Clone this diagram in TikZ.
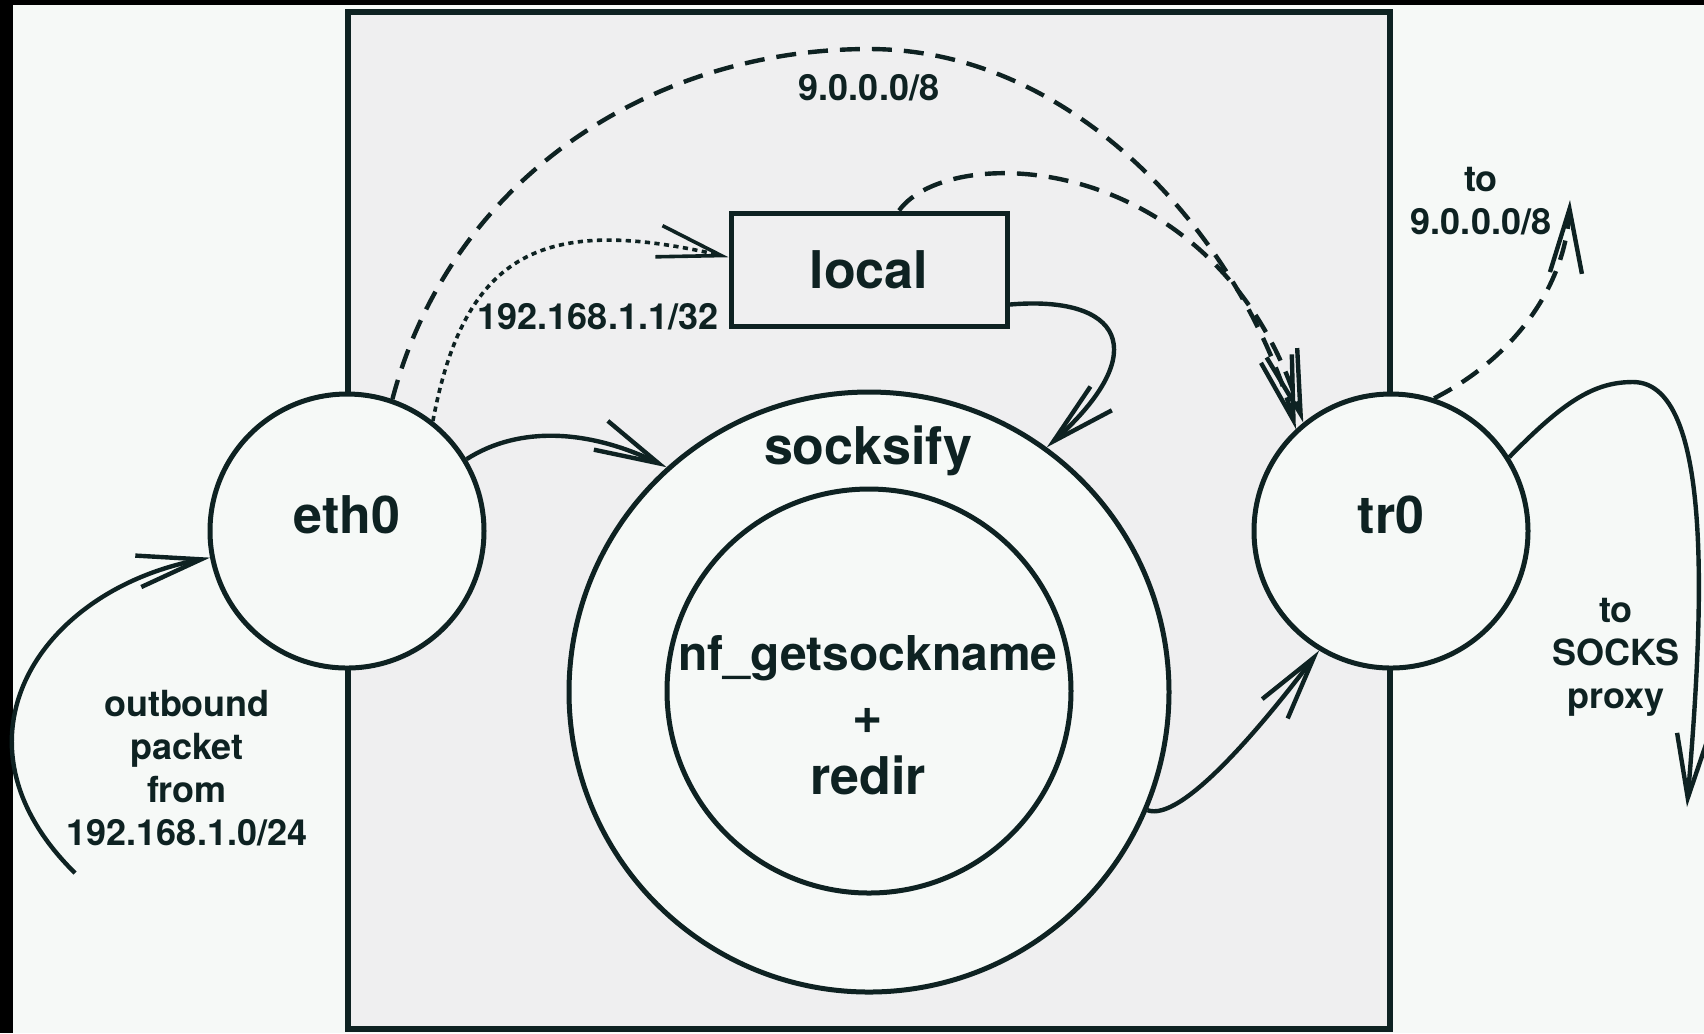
\documentclass[tikz,border=0pt]{standalone}
\usepackage{fontspec}
\setmainfont{TeX Gyre Heros}
\usetikzlibrary{arrows.meta}

\definecolor{ink}{RGB}{14,34,34}
\definecolor{paper}{RGB}{246,249,247}
\definecolor{panel}{RGB}{239,239,240}

\tikzset{
  iface/.style={circle, draw=ink, line width=1.25pt, fill=paper, minimum size=68.5pt, inner sep=0pt},
  ring/.style={circle, draw=ink, line width=1.25pt, fill=paper, inner sep=0pt},
  bigtext/.style={font=\fontsize{13}{15.6}\selectfont\bfseries, text=ink, inner sep=0pt},
  smalltext/.style={font=\fontsize{9}{10.75}\selectfont\bfseries, text=ink, inner sep=0pt, align=center},
  flow/.style={draw=ink, line width=1.1pt, -{Straight Barb[length=16pt,width=8pt]}},
  route/.style={flow, dash pattern=on 5pt off 3pt},
  hint/.style={flow, line width=0.9pt, dash pattern=on 1.3pt off 1.1pt},
}

\begin{document}
\begin{tikzpicture}[x=0.25pt,y=0.25pt,yscale=-1,xscale=1]
\useasboundingbox (0,0) rectangle (1704,1033);
\fill[paper] (0,0) rectangle (1704,1033);
\fill[black] (0,0) rectangle (1704,5);
\fill[black] (0,0) rectangle (13,1033);

%Kernel box
\draw [draw=ink, fill=panel, line width=1.4pt] (348,12) rectangle (1390,1029);

% Interfaces and stages
\draw (347,531) node (eth0) [iface] {};
\draw (1391,531) node (tr0) [iface] {};
\draw (869,692) node (socksify) [ring, minimum size=150pt] {};
\draw (869,691) node (redir) [ring, minimum size=101pt] {};
\draw (869,269.5) node (local) [bigtext, draw=ink, fill=panel, line width=1.25pt, minimum width=69pt, minimum height=28.25pt] {local};

% Free ends
\coordinate (inpkt) at (75,873);
\coordinate (to9) at (1570,200);
\coordinate (tosocks) at (1687,807);

%Curves
\draw [flow] (inpkt) .. controls (-60,740) and (40,590) .. (eth0.191);
\draw [flow] (eth0.31) .. controls (520,425) and (590,430) .. (socksify.132);
\draw [hint] (eth0.52) .. controls (465,250) and (545,215) .. (local.175);
\draw [route] (eth0.71) .. controls (450,180) and (650,49) .. (869,49) .. controls (1080,49) and (1245,245) .. (tr0.133);
\draw [route] (local.63) .. controls (950,140) and (1220,150) .. (tr0.129);
\draw [flow] (local.-14) .. controls (1120,295) and (1155,350) .. (socksify.54);
\draw [flow] (socksify.-23) .. controls (1180,822) and (1255,735) .. (tr0.239);
\draw [route] (tr0.72) .. controls (1510,360) and (1565,290) .. (to9);
\draw [flow] (tr0.32) .. controls (1565,400) and (1595,382) .. (1633,382) .. controls (1720,382) and (1700,650) .. (tosocks);

% Text Node
\draw (347,533) node (eth0txt) [bigtext, anchor=base] {eth0};
\draw (1391,533) node (tr0txt) [bigtext, anchor=base] {tr0};
\draw (868,464) node (socktxt) [bigtext, anchor=base] {socksify};
\draw (868,670) node (nftxt) [bigtext, anchor=base, font=\fontsize{12}{14}\selectfont\bfseries] {nf\_getsockname};
\draw (868,733) node (plustxt) [bigtext, anchor=base] {+};
\draw (868,794) node (redirtxt) [bigtext, anchor=base] {redir};
% Text Node
\draw (869,100) node (wantxt) [smalltext, anchor=base] {9.0.0.0/8};
\draw (598,329) node (hosttxt) [smalltext, anchor=base] {192.168.1.1/32};
\draw (1481,201) node (fwdtxt) [smalltext] {to\\9.0.0.0/8};
\draw (1616,657) node (proxytxt) [smalltext] {to\\SOCKS\\proxy};
\draw (187,768) node (intxt) [smalltext] {outbound\\packet\\from\\192.168.1.0/24};

\end{tikzpicture}
\end{document}
